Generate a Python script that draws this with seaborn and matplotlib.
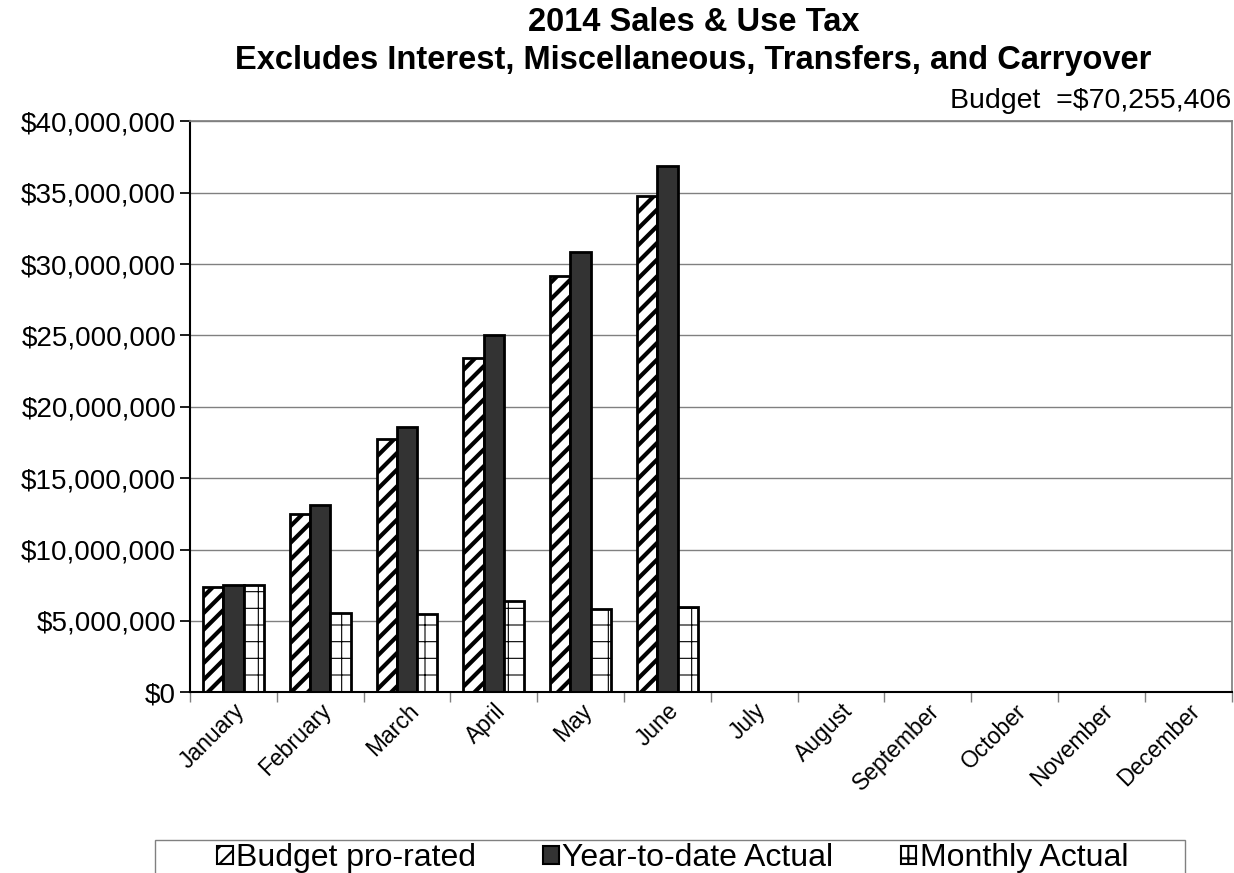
import pandas as pd
import seaborn as sns
import matplotlib.pyplot as plt
from matplotlib.ticker import FuncFormatter
from matplotlib.patches import Patch, Rectangle

months = ["January", "February", "March", "April", "May", "June",
          "July", "August", "September", "October", "November", "December"]
budget_prorated = [7.35, 12.5, 17.75, 23.45, 29.2, 34.8, 0, 0, 0, 0, 0, 0]
ytd_actual = [7.55, 13.1, 18.6, 25.0, 30.85, 36.85, 0, 0, 0, 0, 0, 0]
monthly_actual = [7.55, 5.53, 5.46, 6.37, 5.87, 5.95, 0, 0, 0, 0, 0, 0]
series = ["Budget pro-rated", "Year-to-date Actual", "Monthly Actual"]

# long format for seaborn, values in dollars
df = pd.DataFrame({
    "Month": months * 3,
    "Series": [s for s in series for _ in months],
    "Value": [v * 1e6 for v in budget_prorated + ytd_actual + monthly_actual],
})

sns.set_theme(style="white")
plt.rcParams["font.family"] = ["Liberation Sans", "DejaVu Sans"]
plt.rcParams["text.color"] = "black"
plt.rcParams["xtick.color"] = "black"
plt.rcParams["ytick.color"] = "black"
plt.rcParams["hatch.linewidth"] = 3.0

fig = plt.figure(figsize=(12.34, 8.73), dpi=100)
ax = fig.add_axes([0.154, 0.207, 0.844, 0.654])

sns.barplot(data=df, x="Month", y="Value", hue="Series", order=months,
            hue_order=series, width=0.7, ax=ax, legend=False,
            edgecolor="black", linewidth=2, saturation=1,
            palette=["white", "#333333", "white"])

# styles per series: hatched, solid dark, dotted grid
styles = [("white", "//", 3.0), ("#333333", None, 1), ("white", "+", 0.8)]
for cont, (fc, h, hw) in zip(ax.containers, styles):
    for bar in cont:
        bar.set_facecolor(fc)
        bar.set_edgecolor("black")
        bar.set_linewidth(2)
        if h:
            bar.set_hatch(h)
            if hasattr(bar, "set_hatch_linewidth"):
                bar.set_hatch_linewidth(hw)
            else:
                bar._hatch_linewidth = hw

ax.set_ylim(0, 40e6)
ax.set_xlim(-0.5, 11.5)
ax.set_yticks([i * 5e6 for i in range(9)])
ax.yaxis.set_major_formatter(FuncFormatter(lambda v, p: "${:,.0f}".format(v)))
ax.yaxis.grid(True, color="#808080", linewidth=1)
ax.set_axisbelow(True)
ax.set_xlabel("")
ax.set_ylabel("")
ax.tick_params(axis="y", labelsize=20, length=7, pad=3, left=True)
ax.tick_params(axis="x", labelsize=16.5, bottom=True)
for lab in ax.get_xticklabels():
    lab.set_rotation(45)
    lab.set_ha("right")
    lab.set_rotation_mode("anchor")
ax.set_xticks([i + 0.5 for i in range(-1, 12)], minor=True)
ax.tick_params(axis="x", which="major", length=0, pad=5)
ax.tick_params(axis="x", which="minor", length=7, color="#808080", bottom=True)

for side in ["top", "right"]:
    ax.spines[side].set_color("#808080")
for side in ["left", "bottom"]:
    ax.spines[side].set_color("black")
    ax.spines[side].set_linewidth(1.5)

fig.text(0.562, 0.992, "2014 Sales & Use Tax\nExcludes Interest, Miscellaneous, Transfers, and Carryover",
         ha="center", va="top", fontsize=23.5, fontweight="bold", linespacing=1.3)
fig.text(0.998, 0.869, "Budget  =$70,255,406", ha="right", va="bottom", fontsize=20.5)

# legend box, open at the bottom edge like the reference
fig.patches.append(Rectangle((155 / 1234, -0.05), 1030 / 1234, 0.05 + 33 / 873,
                             transform=fig.transFigure, fill=False,
                             edgecolor="#808080", linewidth=1))
handles = [Patch(facecolor=fc, edgecolor="black", hatch=h, linewidth=1.5)
           for fc, h, hw in styles]
leg = fig.legend(handles, series, loc="center",
                 bbox_to_anchor=(0.545, 0.017),
                 ncol=3, fontsize=23, frameon=False,
                 handlelength=0.5, handleheight=0.5,
                 handletextpad=0.1, columnspacing=2.1, borderpad=0,
                 borderaxespad=0)
for lh in leg.legend_handles:
    if hasattr(lh, "set_hatch_linewidth"):
        lh.set_hatch_linewidth(1.5)

fig.savefig("out.png", dpi=100)
